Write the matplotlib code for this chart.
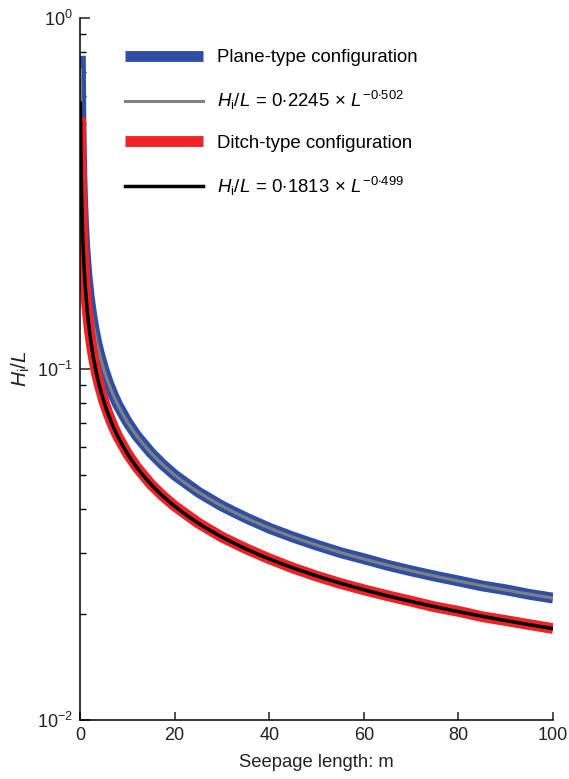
import numpy as np
from matplotlib import pyplot as plt

plt.rcParams['font.family'] = ['Liberation Sans', 'DejaVu Sans']
plt.rcParams['mathtext.fontset'] = 'custom'
plt.rcParams['mathtext.rm'] = 'Liberation Sans'
plt.rcParams['mathtext.it'] = 'Liberation Sans:italic'
plt.rcParams['mathtext.bf'] = 'Liberation Sans:bold'

# seepage length (m) and H_i/L
plane_L = [0.08, 0.1, 0.15, 0.2, 0.3, 0.4, 0.5, 0.6, 0.75, 1, 1.25, 1.5, 2,
           2.5, 3, 3.5, 4, 5, 6, 7, 8, 10, 12, 15, 17.5, 20, 25, 30, 35, 40,
           45, 50, 55, 60, 65, 70, 75, 80, 85, 90, 95, 100]
plane_H = [0.78, 0.713, 0.582, 0.504, 0.411, 0.3556, 0.318, 0.2901, 0.259,
           0.2245, 0.2007, 0.1832, 0.1585, 0.1417, 0.1293, 0.1197, 0.1119,
           0.1001, 0.0913, 0.0845, 0.0790, 0.0707, 0.0645, 0.0577, 0.0534,
           0.0499, 0.0446, 0.0407, 0.0377, 0.0352, 0.0332, 0.0315, 0.0300,
           0.0288, 0.0276, 0.0266, 0.0257, 0.0249, 0.0241, 0.0235, 0.0228,
           0.02225]

ditch_L = [0.12, 0.15, 0.2, 0.3, 0.4, 0.5, 0.6, 0.75, 1, 1.25, 1.5, 2, 2.5,
           3, 3.5, 4, 5, 6, 7, 8, 10, 12, 15, 17.5, 20, 25, 30, 35, 40, 45,
           50, 55, 60, 65, 70, 75, 80, 85, 90, 95, 100]
ditch_H = [0.522, 0.467, 0.405, 0.3306, 0.2864, 0.2562, 0.2339, 0.2093,
           0.1813, 0.1622, 0.1481, 0.1283, 0.1148, 0.1048, 0.0970, 0.0908,
           0.0812, 0.0742, 0.0687, 0.0642, 0.0575, 0.0525, 0.0469, 0.0435,
           0.0407, 0.0364, 0.0332, 0.0308, 0.0288, 0.0271, 0.0257, 0.0245,
           0.0235, 0.0226, 0.0218, 0.0210, 0.0204, 0.0197, 0.0192, 0.0187,
           0.01822]

# fitted power laws H_i/L = a * L^b
plane_a, plane_b = 0.2245, -0.502
ditch_a, ditch_b = 0.1813, -0.499

L_fit = np.linspace(0.1, 100, 2000)

fig = plt.figure(figsize=(5.69, 7.79), dpi=100)
ax = fig.add_axes([0.1406, 0.0757, 0.8314, 0.9013])

ax.plot(plane_L, plane_H, color='#2e4fa3', lw=7.8, solid_capstyle='butt',
        solid_joinstyle='round', label='Plane-type configuration')
ax.plot(L_fit, plane_a * L_fit ** plane_b, color='#808080', lw=2.2,
        label=r'$H_{\mathrm{i}}/L\,=\,0{\cdot}2245\,\times\,L^{-0{\cdot}502}$')
ax.plot(ditch_L, ditch_H, color='#ee2227', lw=7.8, solid_capstyle='butt',
        solid_joinstyle='round', label='Ditch-type configuration')
ax.plot(L_fit, ditch_a * L_fit ** ditch_b, color='black', lw=2.5,
        label=r'$H_{\mathrm{i}}/L\,=\,0{\cdot}1813\,\times\,L^{-0{\cdot}499}$')

ax.set_yscale('log')
ax.set_ylim(1e-2, 1)
ax.set_xlim(0, 100)
ax.set_xticks([0, 20, 40, 60, 80, 100])

for s in ['top', 'right']:
    ax.spines[s].set_visible(False)
for s in ['left', 'bottom']:
    ax.spines[s].set_linewidth(1.1)

ax.tick_params(which='major', direction='in', length=7, width=1.1,
               labelsize=13, colors='#222222', pad=5)
ax.tick_params(which='minor', direction='in', length=4, width=1.0)
ax.tick_params(axis='x', which='major', length=6, pad=5)

ax.set_xlabel('Seepage length: m', fontsize=13.3, labelpad=7, color='#222222')
ax.set_ylabel(r'$H_{\mathrm{i}}/L$', fontsize=15, labelpad=4, color='#222222')

leg = ax.legend(loc='upper left', bbox_to_anchor=(0.06, 0.979), frameon=False,
                fontsize=13.4, handlelength=4.2, labelspacing=1.22,
                handletextpad=0.75)

plt.savefig('out.png', dpi=100)
